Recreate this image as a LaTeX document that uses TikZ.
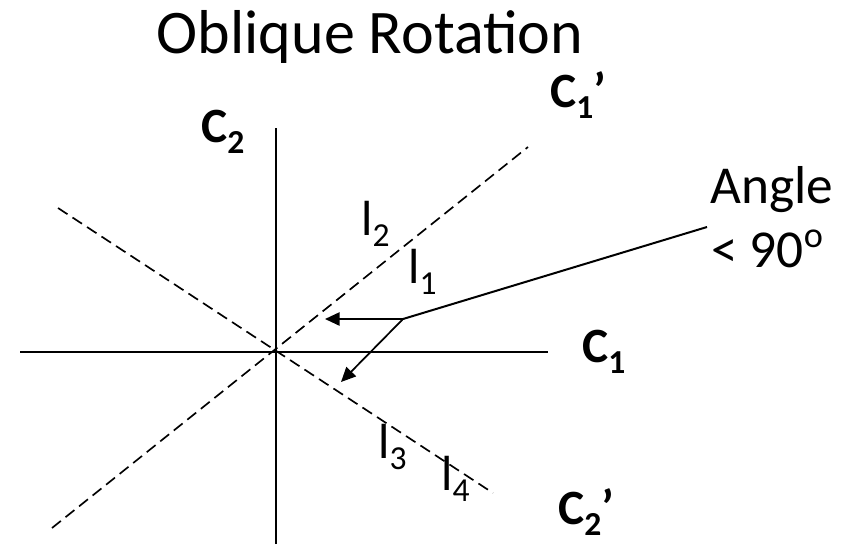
\documentclass[tikz,border=0pt]{standalone}
\usepackage{fontspec}
\setmainfont{Carlito}
\usetikzlibrary{arrows.meta}
\definecolor{figline}{RGB}{0,0,0}
\newcommand{\dn}[1]{\raisebox{-0.24em}{\scalebox{0.68}{#1}}}
\newcommand{\up}[1]{\raisebox{0.36em}{\scalebox{0.68}{#1}}}
\tikzset{
  ax/.style   ={draw=figline, line width=1.5pt},
  rot/.style  ={draw=figline, line width=1.25pt, dash pattern=on 8.5pt off 4.5pt},
  ttl/.style  ={font=\fontsize{46.5}{52}\selectfont, inner sep=0pt, anchor=base},
  lab/.style  ={font=\fontsize{37}{42}\selectfont\bfseries, inner sep=0pt, anchor=base west},
  labl/.style ={font=\fontsize{37}{42}\selectfont, inner sep=0pt, anchor=base west},
  ptr/.style  ={draw=figline, line width=1.3pt, -{Triangle[length=11pt,width=10pt]}},
}
\begin{document}
\begin{tikzpicture}[x=0.75pt,y=-0.75pt]
  \useasboundingbox (0,0) rectangle (846,544);
  \node[ttl] (title) at (370,53) {Oblique Rotation};
  % axes
  \coordinate (o) at (276,352);
  \coordinate (c1a) at (20,352);
  \coordinate (c1b) at (548,352);
  \coordinate (c2a) at (276,544);
  \coordinate (c2b) at (276,128);
  \draw[ax] (c1a) -- (c1b);
  \draw[ax] (c2a) -- (c2b);
  % rotated axes
  \coordinate (r1a) at (52,528);
  \coordinate (r1b) at (528,147);
  \coordinate (r2a) at (58,208);
  \coordinate (r2b) at (493,493);
  \draw[rot] (r1a) -- (r1b);
  \draw[rot] (r2a) -- (r2b);
  \node[lab] (C2) at (201,142) {C\dn{2}};
  \node[lab] (C1) at (582,362) {C\dn{1}};
  \node[lab] (C1p) at (550,107) {C\dn{1}’};
  \node[lab] (C2p) at (558,524) {C\dn{2}’};
  % loadings
  \node[labl] (l2) at (361,235) {l\dn{2}};
  \node[labl] (l1) at (408,283) {l\dn{1}};
  \node[labl] (l3) at (378,458) {l\dn{3}};
  \node[labl] (l4) at (441,490) {l\dn{4}};
  % angle marker
  \coordinate (p) at (403,319);
  \coordinate (pa) at (325,319);
  \coordinate (pb) at (341,382);
  \coordinate (pc) at (707,227);
  \draw[ptr] (p) -- (pa);
  \draw[ptr] (p) -- (pb);
  \draw[ax] (p) -- (pc);
  \node[labl, font=\fontsize{40}{48}\selectfont] (ang) at (710,203) {Angle};
  \node[labl, font=\fontsize{40}{48}\selectfont] (lt) at (711,267) {< 90\up{o}};
\end{tikzpicture}
\end{document}
